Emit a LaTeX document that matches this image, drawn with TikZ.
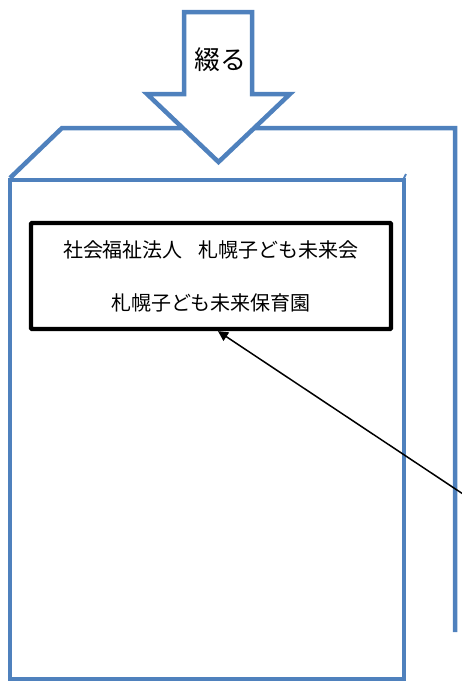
\documentclass[tikz,border=0pt]{standalone}
\usepackage{fontspec}
\setmainfont{Noto Sans CJK JP}
\usetikzlibrary{arrows.meta}
\definecolor{boxblue}{HTML}{4F81BD}
\tikzset{
  blueline/.style={draw=boxblue, line width=4.5pt, line join=miter},
  labelbox/.style={draw=black, line width=4.3pt, fill=white, rounded corners=1pt,
    minimum width=360pt, minimum height=106pt, align=center,
    font=\fontsize{20}{53}\selectfont, inner sep=0pt},
  pointer/.style={draw=black, line width=1.5pt, -{Triangle[length=10pt,width=10pt]}}
}
\begin{document}
\begin{tikzpicture}[x=1pt,y=-1pt]
\useasboundingbox (0,0) rectangle (461,686);
% back face
\draw[blueline] (10,178) -- (62,128) -- (455,128) -- (455,632);
% front face
\draw[blueline, fill=white] (10,180) rectangle (404,679);
\draw[blueline, line width=2pt] (403,180) -- (406,174);
% bind arrow
\draw[blueline, fill=white] (184,12) -- (252,12) -- (252,94) -- (290,94) -- (218.5,162) -- (147,94) -- (184,94) -- cycle;
\node[font=\fontsize{26}{26}\selectfont] (tsuzuru) at (220,60) {綴る};
% label
\node[labelbox] (label) at (211,276) {社会福祉法人\hspace{0.8em}札幌子ども未来会\\札幌子ども未来保育園};
\coordinate (free) at (463,494);
\draw[pointer] (free) -- ([xshift=7pt]label.south);
\end{tikzpicture}
\end{document}
